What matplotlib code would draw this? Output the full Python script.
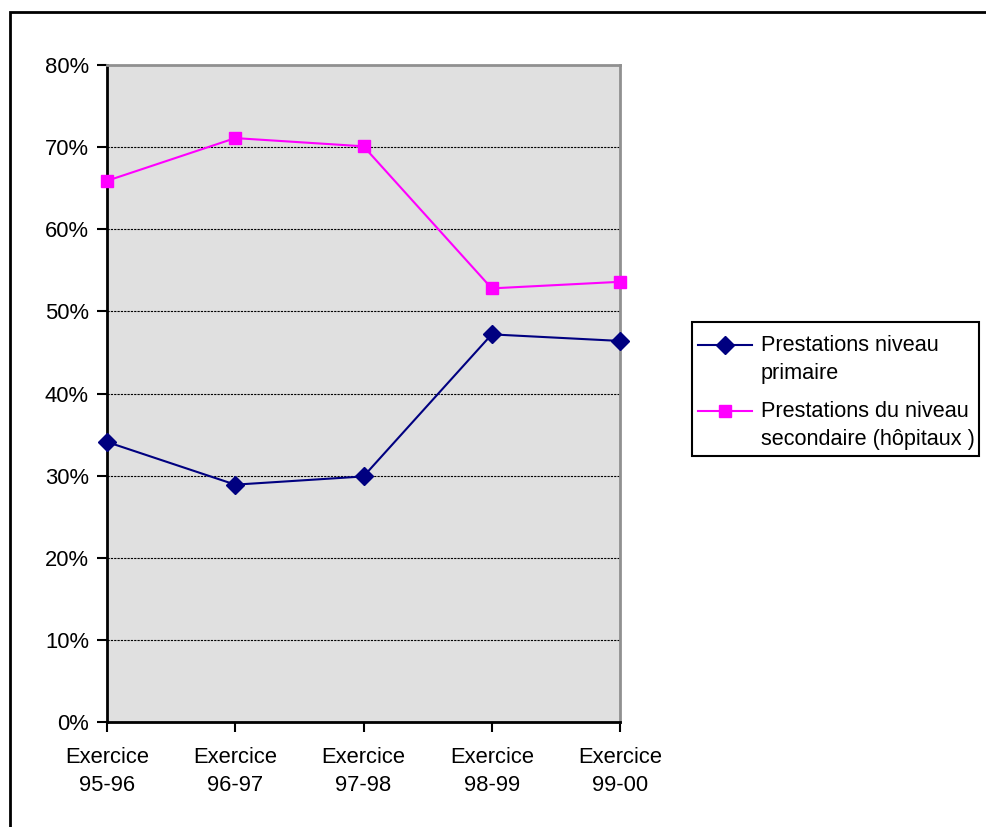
import matplotlib.pyplot as plt
from matplotlib.patches import Rectangle
from matplotlib.lines import Line2D
from matplotlib.ticker import PercentFormatter

plt.rcParams['font.family'] = ['Liberation Sans', 'DejaVu Sans']

exercices = ["Exercice\n95-96", "Exercice\n96-97", "Exercice\n97-98", "Exercice\n98-99", "Exercice\n99-00"]
primaire = [34.1, 28.9, 29.9, 47.2, 46.4]
secondaire = [65.9, 71.1, 70.1, 52.8, 53.6]
labels = ["Prestations niveau\nprimaire", "Prestations du niveau\nsecondaire (hôpitaux )"]
couleurs = ['#000080', '#ff00ff']
marqueurs = [('D', 9), ('s', 8)]

W, H = 987, 827
fs = 15.8

fig = plt.figure(figsize=(W / 100, H / 100), dpi=100)
ax = fig.add_axes([107 / W, 1 - 722 / H, 513 / W, 657 / H])

def fx(px):
    return px / W

def fy(py):
    return 1 - py / H

# cadre extérieur du graphique
fig.patches.append(Rectangle((fx(10), -0.1), 1.2, fy(12) + 0.1,
                             transform=fig.transFigure, fill=False,
                             edgecolor='black', linewidth=2))

x = range(len(exercices))
for serie, coul, (m, ms), lab in zip([primaire, secondaire], couleurs, marqueurs, labels):
    ax.plot(x, serie, color=coul, marker=m, markersize=ms, linewidth=1.5,
            label=lab, clip_on=False, zorder=3)

ax.set_facecolor('#e0e0e0')
ax.set_xlim(0, 4)
ax.set_ylim(0, 80)
ax.set_yticks(range(0, 81, 10))
ax.yaxis.set_major_formatter(PercentFormatter(decimals=0))
ax.set_xticks(list(x))
ax.set_xticklabels(exercices, linespacing=1.45)
ax.grid(axis='y', color='black', linestyle=(0, (2, 1)), linewidth=0.8)
ax.set_axisbelow(True)

for side in ['left', 'bottom']:
    ax.spines[side].set_linewidth(2)
    ax.spines[side].set_color('black')
for side in ['right', 'top']:
    ax.spines[side].set_linewidth(2)
    ax.spines[side].set_color('#909090')

ax.tick_params(axis='both', direction='out', length=7, width=1.5, labelsize=fs,
               colors='black')
ax.tick_params(axis='x', pad=11)
ax.tick_params(axis='y', pad=6)

# légende dessinée à la main : le symbole reste sur la première ligne du texte
fig.patches.append(Rectangle((fx(692), fy(456)), fx(979) - fx(692), fy(322) - fy(456),
                             transform=fig.transFigure, facecolor='white',
                             edgecolor='black', linewidth=1.5))
for i, (coul, (m, ms), lab) in enumerate(zip(couleurs, marqueurs, labels)):
    y1 = 345 + i * 66
    fig.add_artist(Line2D([fx(698), fx(752)], [fy(y1), fy(y1)], color=coul,
                          linewidth=1.5, transform=fig.transFigure))
    fig.add_artist(Line2D([fx(725)], [fy(y1)], color=coul, marker=m, markersize=ms,
                          transform=fig.transFigure))
    fig.text(fx(761), fy(y1 + 14.5), lab, fontsize=fs - 0.2, va='center', ha='left',
             linespacing=1.38)

fig.savefig('out.png', dpi=100)
